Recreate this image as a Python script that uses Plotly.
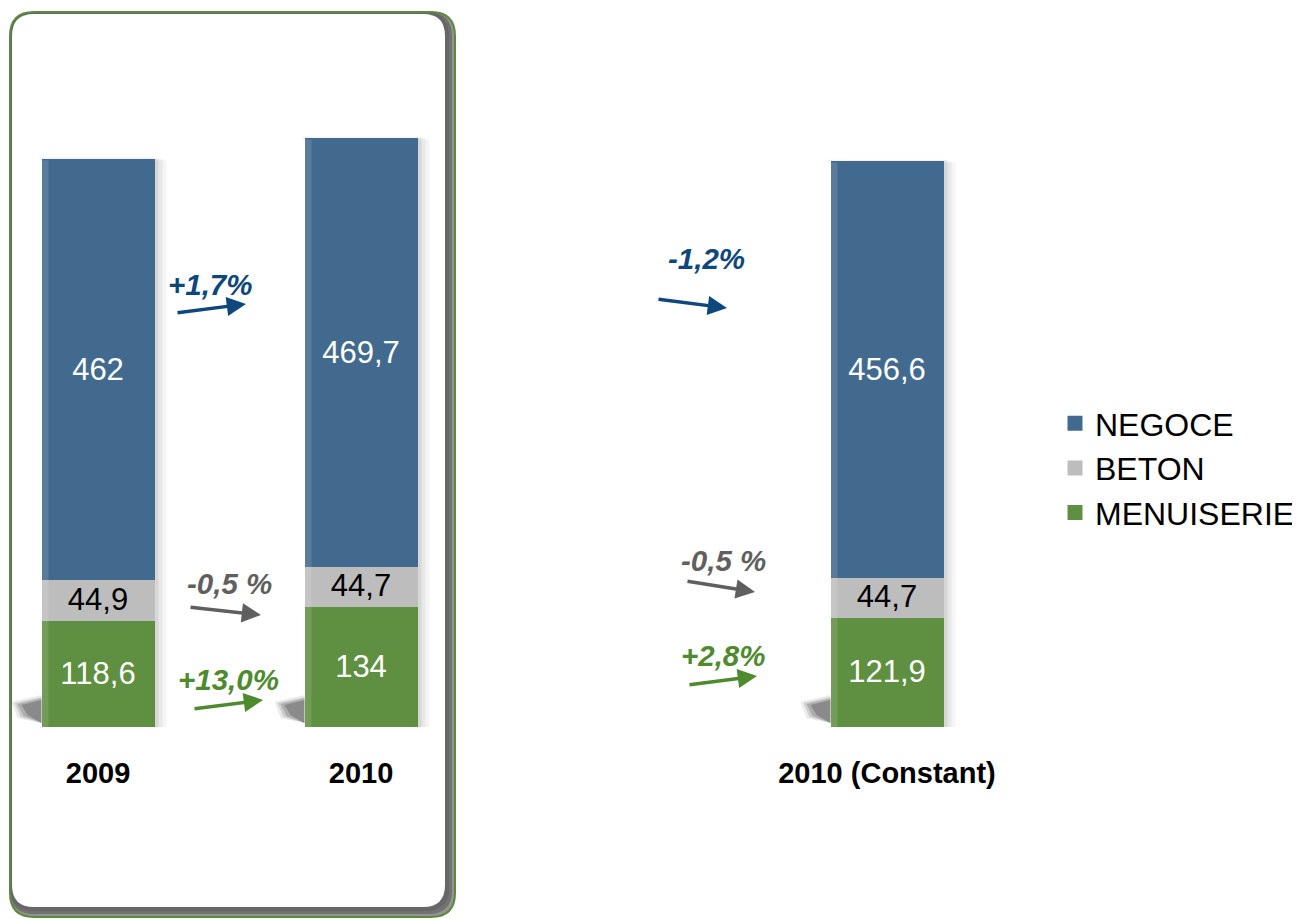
import plotly.graph_objects as go

# ---------------- data ----------------
categories = ["2009", "2010", "2010 (Constant)"]
negoce = [462, 469.7, 456.6]
beton = [44.9, 44.7, 44.7]
menuiserie = [118.6, 134, 121.9]
series_names = ["MENUISERIE", "BETON", "NEGOCE"]
change_2009_2010 = ["+13,0%", "-0,5 %", "+1,7%"]        # menuiserie, beton, negoce
change_2010_const = ["+2,8%", "-0,5 %", "-1,2%"]        # menuiserie, beton, negoce

# ---------------- styling / layout ----------------
W, H = 1300, 919
OFF = 8                          # page body margin offset
BASE_PX = 727 - OFF              # figure px of y = 0
BOTTOM = H - BASE_PX
PH = BASE_PX
PX_PER_UNIT = 0.906
X0_PX, SLOT_PX = 98 - OFF, 263
slots = [0, 1, 3]               # horizontal slot of each category
LINE_W = 3
BAR_W = (113 - LINE_W) / SLOT_PX
FONT = "Liberation Sans, Arial, sans-serif"

colors = {"NEGOCE": "#426A8E", "BETON": "#BDBDBD", "MENUISERIE": "#5F8F40"}
text_colors = {"NEGOCE": "white", "BETON": "black", "MENUISERIE": "white"}
change_colors = {"NEGOCE": "#0E477C", "BETON": "#5F5F5F", "MENUISERIE": "#4E8A2E"}
values = {"NEGOCE": negoce, "BETON": beton, "MENUISERIE": menuiserie}
rank = {"NEGOCE": 1, "BETON": 2, "MENUISERIE": 3}


def fmt(v):
    return f"{v:g}".replace(".", ",")


def pxx(px):          # screen px -> paper x
    return (px - OFF) / W


def pyy(py):          # screen px -> paper y
    return (PH - (py - OFF)) / PH


fig = go.Figure()
for name in series_names:
    fig.add_trace(go.Bar(
        x=slots, y=values[name], name=name, legendgroup=name,
        legendrank=rank[name],
        width=BAR_W,
        marker=dict(color=colors[name], line=dict(width=LINE_W, color=colors[name])),
        text=[fmt(v) for v in values[name]],
        textposition="inside", insidetextanchor="middle",
        textfont=dict(family=FONT, size=31, color=text_colors[name]),
        hoverinfo="skip",
    ))

shapes = []
# rounded panel with inner shadow (2009 / 2010)
L, T, R, Bt, rad = 10, 12, 455, 917, 24


def rr(l, t, r, b, rd):
    return (f"M {pxx(l+rd)},{pyy(t)} L {pxx(r-rd)},{pyy(t)} "
            f"Q {pxx(r)},{pyy(t)} {pxx(r)},{pyy(t+rd)} "
            f"L {pxx(r)},{pyy(b-rd)} Q {pxx(r)},{pyy(b)} {pxx(r-rd)},{pyy(b)} "
            f"L {pxx(l+rd)},{pyy(b)} Q {pxx(l)},{pyy(b)} {pxx(l)},{pyy(b-rd)} "
            f"L {pxx(l)},{pyy(t+rd)} Q {pxx(l)},{pyy(t)} {pxx(l+rd)},{pyy(t)} Z")


for d, op in [(0, 0.5), (3, 0.3), (6, 0.15)]:
    shapes.append(dict(type="path", xref="paper", yref="paper", layer="below",
                       path=rr(L, T, R - d, Bt - d, rad),
                       fillcolor=f"rgba(40,40,40,{op})", line=dict(width=0)))
shapes.append(dict(type="path", xref="paper", yref="paper", layer="below",
                   path=rr(L + 2, T + 2, R - 10, Bt - 10, rad - 2),
                   fillcolor="white", line=dict(width=0)))
shapes.append(dict(type="path", xref="paper", yref="paper", layer="below",
                   path=rr(L, T, R, Bt, rad),
                   fillcolor="rgba(0,0,0,0)", line=dict(color="#5B8A3C", width=2)))

# soft shadows around bars (computed from data)
totals = [a + b + c for a, b, c in zip(negoce, beton, menuiserie)]
u = 1 / SLOT_PX
v = 1 / PX_PER_UNIT
half = (113 / 2) * u
for s, tot in zip(slots, totals):
    right = s + half
    left = s - half
    for w, op in [(12, 0.04), (8, 0.05), (4, 0.07)]:
        shapes.append(dict(type="rect", xref="x", yref="y", layer="below",
                           x0=right, x1=right + w * u, y0=0, y1=tot + 4 - w / 3,
                           fillcolor=f"rgba(0,0,0,{op})", line=dict(width=0)))
    shapes.append(dict(type="rect", xref="x", yref="y", layer="below",
                       x0=left - 2 * u, x1=right, y0=tot, y1=tot + 3,
                       fillcolor="rgba(0,0,0,0.05)", line=dict(width=0)))
    # perspective shadow at bottom left (soft wedge)
    for a, b, op in [(30, 16, 0.08), (27, 12, 0.12), (24, 9, 0.16), (20, 6, 0.2)]:
        shapes.append(dict(type="path", xref="x", yref="y", layer="below",
                           path=(f"M {left - a*u},{(20 + b/3)*v} "
                                 f"L {left},{(24 + b/2)*v} "
                                 f"L {left},{(4)*v} "
                                 f"L {left - a*u + 6*u},{(14 - b/3)*v} Z"),
                           fillcolor=f"rgba(0,0,0,{op})", line=dict(width=0)))
    # light strip on left edge of bar (gradient hint)
    shapes.append(dict(type="rect", xref="x", yref="y", layer="above",
                       x0=left, x1=left + 7 * u, y0=0, y1=tot,
                       fillcolor="rgba(255,255,255,0.12)", line=dict(width=0)))

annotations = []
# change arrows: (tail_px, tail_py, tip_px, tip_py, text_px, text_py) in screen px
arrow_geo_a = [(193, 709, 263, 700, 228, 679),
               (189, 607, 261, 615, 230, 583),
               (176, 313, 246, 304, 210, 284)]
arrow_geo_b = [(688, 685, 757, 676, 723, 655),
               (686, 581, 755, 592, 723, 560),
               (657, 299, 727, 308, 706, 258)]
for labels, geo in [(change_2009_2010, arrow_geo_a), (change_2010_const, arrow_geo_b)]:
    for name, lab, (tx, ty, hx, hy, lx, ly) in zip(series_names, labels, geo):
        c = change_colors[name]
        annotations.append(dict(xref="paper", yref="paper", x=pxx(hx), y=pyy(hy),
                                ax=tx - hx, ay=ty - hy, text="", showarrow=True,
                                arrowhead=2, arrowsize=1.1, arrowwidth=3.5,
                                arrowcolor=c, standoff=0, startstandoff=0))
        annotations.append(dict(xref="paper", yref="paper", x=pxx(lx), y=pyy(ly),
                                xanchor="center", yanchor="middle", showarrow=False,
                                text=f"<b><i>{lab}</i></b>",
                                font=dict(family=FONT, size=29.5, color=c)))

fig.update_layout(
    width=W, height=H,
    margin=dict(l=0, r=0, t=0, b=BOTTOM, pad=0),
    barmode="stack",
    paper_bgcolor="white", plot_bgcolor="rgba(0,0,0,0)",
    font=dict(family=FONT, color="black"),
    xaxis=dict(range=[-X0_PX / SLOT_PX, (W - X0_PX) / SLOT_PX],
               tickvals=slots, ticktext=categories,
               tickfont=dict(family=FONT, size=29, color="black", weight="bold"),
               ticks="outside", ticklen=20, tickcolor="rgba(0,0,0,0)",
               showgrid=False, zeroline=False, showline=False, fixedrange=True),
    yaxis=dict(range=[0, PH / PX_PER_UNIT], visible=False, fixedrange=True),
    legend=dict(x=pxx(1055), y=pyy(468), xanchor="left", yanchor="middle",
                traceorder="grouped", tracegroupgap=0,
                font=dict(family=FONT, size=32, color="black"),
                bgcolor="rgba(0,0,0,0)"),
    uniformtext=dict(minsize=31, mode="show"),
    shapes=shapes, annotations=annotations,
    showlegend=True,
)

fig.write_html("out.html")
